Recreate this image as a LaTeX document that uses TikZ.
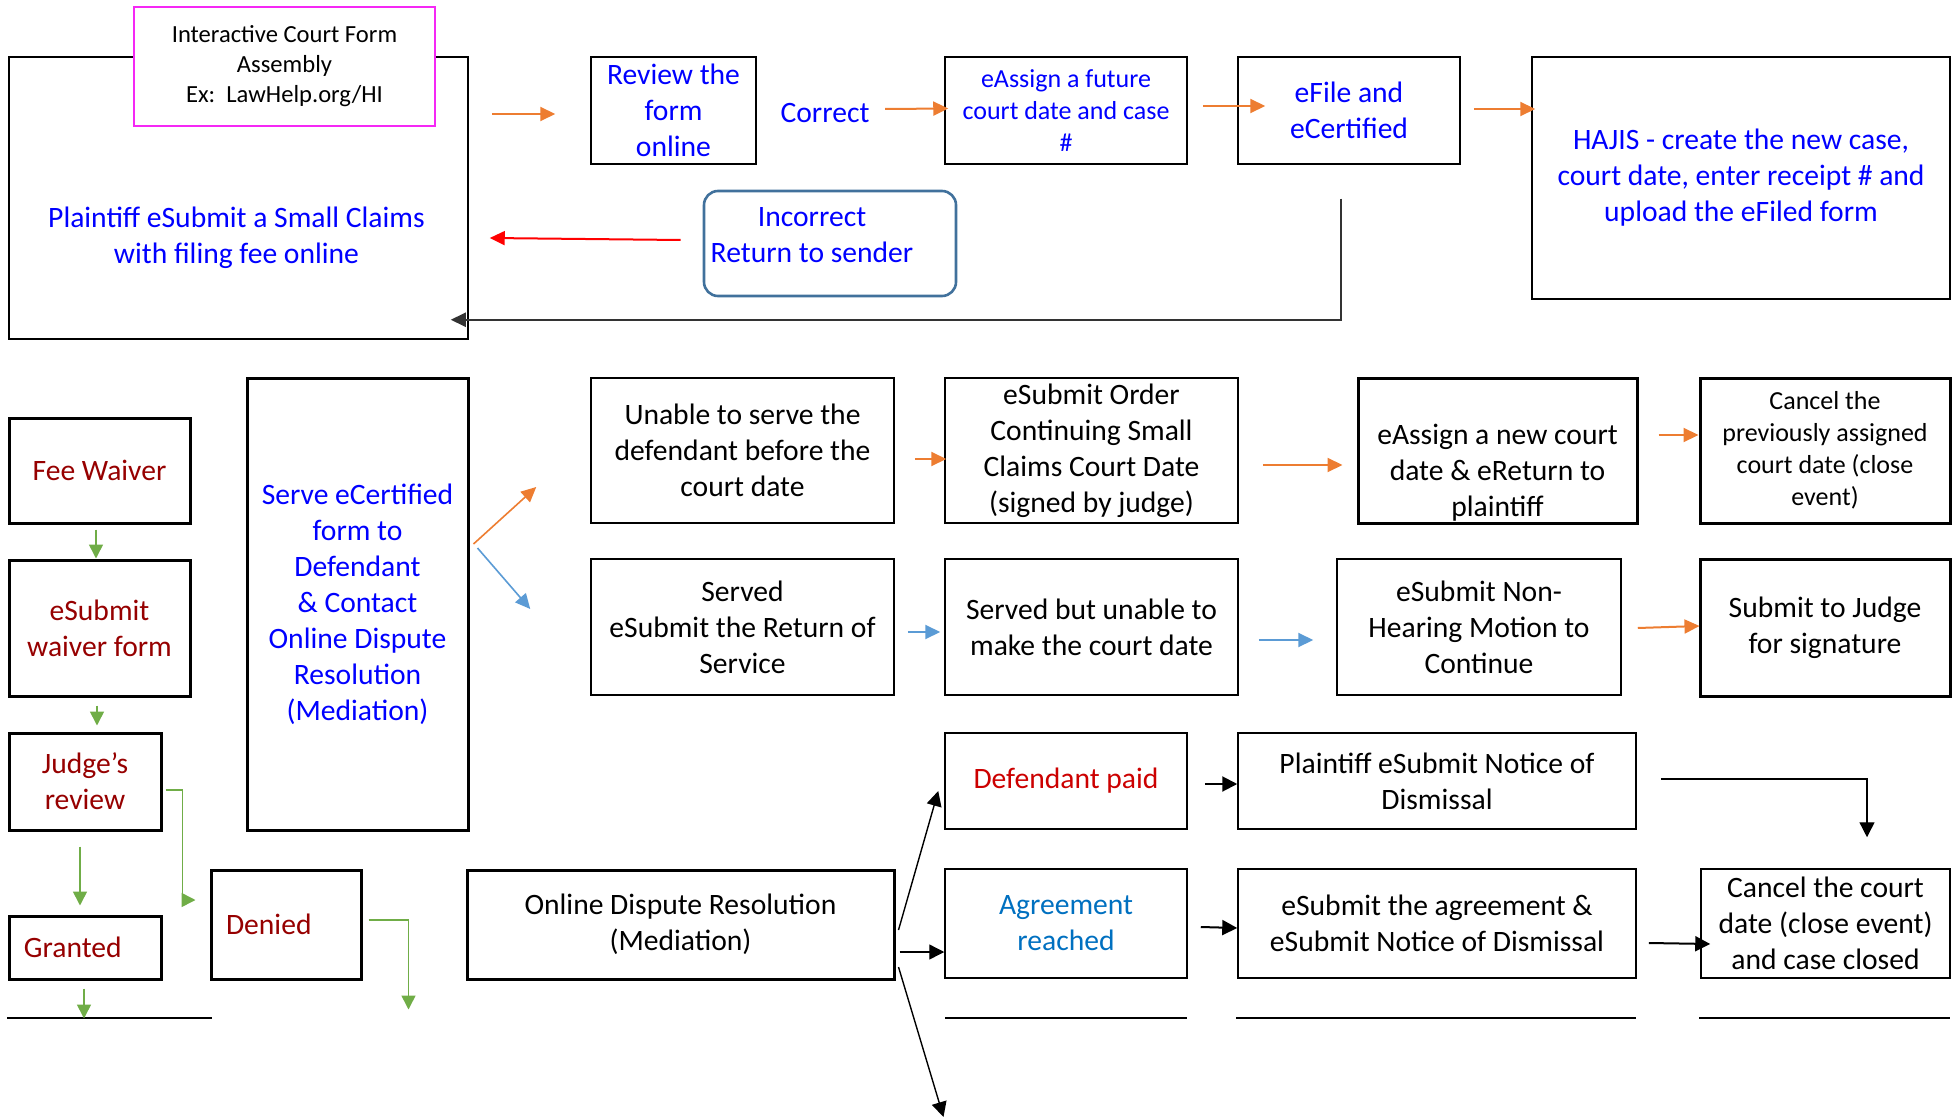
\documentclass[tikz,border=0pt]{standalone}
\usepackage{fontspec}
\setmainfont{Carlito}
\usetikzlibrary{arrows.meta}

\definecolor{txtblue}{RGB}{0,0,255}
\definecolor{darkred}{RGB}{150,0,0}
\definecolor{paidred}{RGB}{204,0,0}
\definecolor{agreeblue}{RGB}{0,112,192}
\definecolor{arrorange}{RGB}{237,125,49}
\definecolor{arrblue}{RGB}{91,155,213}
\definecolor{arrgreen}{RGB}{112,173,71}
\definecolor{incborder}{RGB}{65,113,156}
\definecolor{pinkborder}{RGB}{245,40,245}

\newcommand{\mainsize}{\fontsize{14.8}{18}\selectfont}
\newcommand{\smallsize}{\fontsize{13}{16}\selectfont}
\newcommand{\tinysize}{\fontsize{12.3}{15}\selectfont}

\tikzset{every node/.style={align=center, font=\mainsize}}
\tikzstyle{box} = [draw, line width=0.75pt, inner sep=0pt]
\tikzstyle{thickbox} = [draw, line width=1.5pt, inner sep=0pt]
\tikzstyle{orangearrow} = [draw=arrorange, line width=1pt, -{Triangle[length=7.5pt, width=7pt]}]
\tikzstyle{bluearrow} = [draw=arrblue, line width=0.8pt, -{Triangle[length=7.5pt, width=7pt]}]
\tikzstyle{greenarrow} = [draw=arrgreen, line width=0.8pt, -{Triangle[length=7pt, width=7pt]}]
\tikzstyle{blackarrow} = [draw=black, line width=0.7pt, -{Triangle[length=7.5pt, width=7.5pt]}]

\begin{document}
\begin{tikzpicture}[x=0.5pt, y=-0.5pt]
		\useasboundingbox (0,0) rectangle (1960,1118);

		% Filing
		\node[box, minimum width=229.5pt, minimum height=141pt] (plaintiff) at (238.5,198) {};
		\node[text=txtblue] (plaintifftext) at ([shift={(-2,40)}]plaintiff.center) {Plaintiff eSubmit a Small Claims\\with filing fee online};
		%% Form assembly
		\node[draw=pinkborder, fill=white, line width=1pt, inner sep=0pt, font=\tinysize, minimum width=150.5pt, minimum height=59.5pt] (formassembly) at (284.5,66.5) {Interactive Court Form\\Assembly\\Ex:\ \ LawHelp.org/HI};
		\node[box, text=txtblue, minimum width=82.5pt, minimum height=53.5pt] (review) at (673.5,110.5) {Review the\\form\\online};
		\node[text=txtblue] (correct) at (825,113) {Correct};
		\node[box, text=txtblue, font=\smallsize, minimum width=121pt, minimum height=53.5pt] (eassignfuture) at (1066,110.5) {eAssign a future\\court date and case\\\#};
		\node[box, text=txtblue, minimum width=111pt, minimum height=53.5pt] (efile) at (1349,110.5) {eFile and\\eCertified};
		\node[box, text=txtblue, minimum width=209pt, minimum height=121pt] (hajis) at (1741,178) {HAJIS - create the new case,\\court date, enter receipt \# and\\upload the eFiled form};
		%% Incorrect
		\node[draw=incborder, line width=1.3pt, rounded corners=7pt, minimum width=126pt, minimum height=52.5pt] (incorrect) at (830,243.5) {};
		\node[text=txtblue] (incorrecttext) at ([shift={(-18,-8)}]incorrect.center) {Incorrect\\Return to sender};

		% Fee waiver
		\node[thickbox, text=darkred, minimum width=90.5pt, minimum height=52.5pt] (feewaiver) at (99.5,470.5) {Fee Waiver};
		\node[thickbox, text=darkred, minimum width=90.5pt, minimum height=68pt] (waiverform) at (99.5,628) {eSubmit\\waiver form};
		\node[thickbox, text=darkred, minimum width=76pt, minimum height=48.5pt] (judgereview) at (85,781.5) {Judge’s\\review};
		\node[thickbox, text=darkred, text width=61pt, align=left, minimum width=76pt, minimum height=31.5pt] (granted) at (85,947.5) {Granted};
		\node[thickbox, text=darkred, text width=60pt, align=left, minimum width=75pt, minimum height=54.5pt] (denied) at (286,924.5) {Denied};

		% Service
		\node[thickbox, text=txtblue, minimum width=110.5pt, minimum height=226pt] (serve) at (357.5,604) {Serve eCertified\\form to\\Defendant\\\& Contact\\Online Dispute\\Resolution\\(Mediation)};
		\node[box, minimum width=151.5pt, minimum height=72.5pt] (unable) at (742.5,450.5) {Unable to serve the\\defendant before the\\court date};
		\node[box, minimum width=146.5pt, minimum height=72.5pt] (order) at (1091.5,450.5) {eSubmit Order\\Continuing Small\\Claims Court Date\\(signed by judge)};
		\node[thickbox, minimum width=139.5pt, minimum height=72.5pt] (eassignnew) at (1497.5,450.5) {};
		\node (eassignnewtext) at ([shift={(0,22)}]eassignnew.center) {eAssign a new court\\date \& eReturn to\\plaintiff};
		\node[thickbox, font=\smallsize, minimum width=125pt, minimum height=72.5pt] (cancelprev) at (1825,450.5) {Cancel the\\previously assigned\\court date (close\\event)};
		\node[box, minimum width=151.5pt, minimum height=68pt] (served) at (742.5,627) {Served\\eSubmit the Return of\\Service};
		\node[box, minimum width=146.5pt, minimum height=68pt] (servedbut) at (1091.5,627) {Served but unable to\\make the court date};
		\node[box, minimum width=142pt, minimum height=68pt] (nonhearing) at (1479,627) {eSubmit Non-\\Hearing Motion to\\Continue};
		\node[thickbox, minimum width=125pt, minimum height=68.5pt] (submitjudge) at (1825,627.5) {Submit to Judge\\for signature};

		% Mediation
		\node[thickbox, minimum width=213.5pt, minimum height=54.5pt] (odr) at (680.5,924.5) {Online Dispute Resolution\\(Mediation)};
		\node[box, text=paidred, minimum width=121pt, minimum height=48pt] (defpaid) at (1066,781) {Defendant paid};
		\node[box, minimum width=199pt, minimum height=48pt] (plaintiffnotice) at (1437,781) {Plaintiff eSubmit Notice of\\Dismissal};
		\node[box, text=agreeblue, minimum width=121pt, minimum height=54.5pt] (agreement) at (1066,923.5) {Agreement\\reached};
		\node[box, minimum width=199pt, minimum height=54.5pt] (esubmitagr) at (1437,923.5) {eSubmit the agreement \&\\eSubmit Notice of Dismissal};
		\node[box, minimum width=124.5pt, minimum height=54.5pt] (cancelcourt) at (1825.5,923.5) {Cancel the court\\date (close event)\\and case closed};

		%% Rules
		\draw[line width=1pt] (7,1018) -- (212,1018);
		\draw[line width=1pt] (945,1018) -- (1187,1018);
		\draw[line width=1pt] (1236,1018) -- (1636,1018);
		\draw[line width=1pt] (1699,1018) -- (1950,1018);

		% Arrows, top row
		\draw[orangearrow] ([shift={(23,-84)}]plaintiff.east) -- ([shift={(-35,3.5)}]review.west);
		\draw[orangearrow] ([shift={(60,-4)}]correct.center) -- ([shift={(4,-2)}]eassignfuture.west);
		\draw[orangearrow] ([shift={(15,-4.5)}]eassignfuture.east) -- ([shift={(28,-4.5)}]efile.west);
		\draw[orangearrow] ([shift={(13,-1.5)}]efile.east) -- ([shift={(4,-69)}]hajis.west);
		\draw[red, line width=1pt, -{Triangle[length=7.5pt, width=7pt]}] ([shift={(-22,-3.5)}]incorrect.west) -- ([shift={(21,40)}]plaintiff.east);
		\draw[black!80, line width=1pt, -{Triangle[length=7.5pt, width=7pt]}] ([shift={(-8,34)}]efile.south) |- ([shift={(-18,-20)}]plaintiff.south east);

		% Arrows, service
		\draw[orangearrow, line width=0.8pt] ([shift={(4,-60)}]serve.east) -- ([shift={(-54,36.5)}]unable.west);
		\draw[bluearrow] ([shift={(8,-56)}]serve.east) -- ([shift={(-60,-18)}]served.west);
		\draw[orangearrow] ([shift={(20,8.5)}]unable.east) -- ([shift={(2,8.5)}]order.west);
		\draw[orangearrow] ([shift={(24,14.5)}]order.east) -- ([shift={(-14,14.5)}]eassignnew.west);
		\draw[orangearrow] ([shift={(20,-15.5)}]eassignnew.east) -- ([shift={(0,-15.5)}]cancelprev.west);
		\draw[bluearrow, line width=1pt] ([shift={(13,5)}]served.east) -- ([shift={(-4,5)}]servedbut.west);
		\draw[bluearrow, line width=1pt] ([shift={(20,13)}]servedbut.east) -- ([shift={(-23,13)}]nonhearing.west);
		\draw[orangearrow] ([shift={(16,1)}]nonhearing.east) -- ([shift={(1,-1.5)}]submitjudge.west);

		% Arrows, fee waiver
		\draw[greenarrow] ([shift={(-3.5,5)}]feewaiver.south) -- ([shift={(-3.5,0)}]waiverform.north);
		\draw[greenarrow] ([shift={(-2.5,8)}]waiverform.south) -- ([shift={(12,-6)}]judgereview.north);
		\draw[greenarrow] ([shift={(-5,15)}]judgereview.south) -- ([shift={(-5,-9)}]granted.north);
		\draw[greenarrow] ([shift={(3,8.5)}]judgereview.east) -- ++(17,0) |- ([shift={(-14,-24.5)}]denied.west);
		\draw[greenarrow] ([shift={(-1,8)}]granted.south) -- ([shift={(-1,38)}]granted.south);
		\draw[greenarrow] ([shift={(6,-4.5)}]denied.east) -| ([shift={(46,29)}]denied.south east);

		% Arrows, mediation
		\draw[blackarrow] ([shift={(3,5.5)}]odr.east) -- ([shift={(-6,10)}]defpaid.west);
		\draw[blackarrow] ([shift={(4,27.5)}]odr.east) -- ([shift={(0,28.5)}]agreement.west);
		\draw[blackarrow] ([shift={(3,42.5)}]odr.east) -- ([shift={(48,192.5)}]odr.east);
		\draw[blackarrow, line width=1pt] ([shift={(17,3)}]defpaid.east) -- ([shift={(0,3)}]plaintiffnotice.west);
		\draw[blackarrow] ([shift={(24,-2)}]plaintiffnotice.east) -| ([shift={(41.5,-31)}]cancelcourt.north);
		\draw[blackarrow, line width=1pt] ([shift={(13,3.5)}]agreement.east) -- ([shift={(0,4.5)}]esubmitagr.west);
		\draw[blackarrow, line width=1pt] ([shift={(12,19.5)}]esubmitagr.east) -- ([shift={(10,20.5)}]cancelcourt.west);
	\end{tikzpicture}
\end{document}
